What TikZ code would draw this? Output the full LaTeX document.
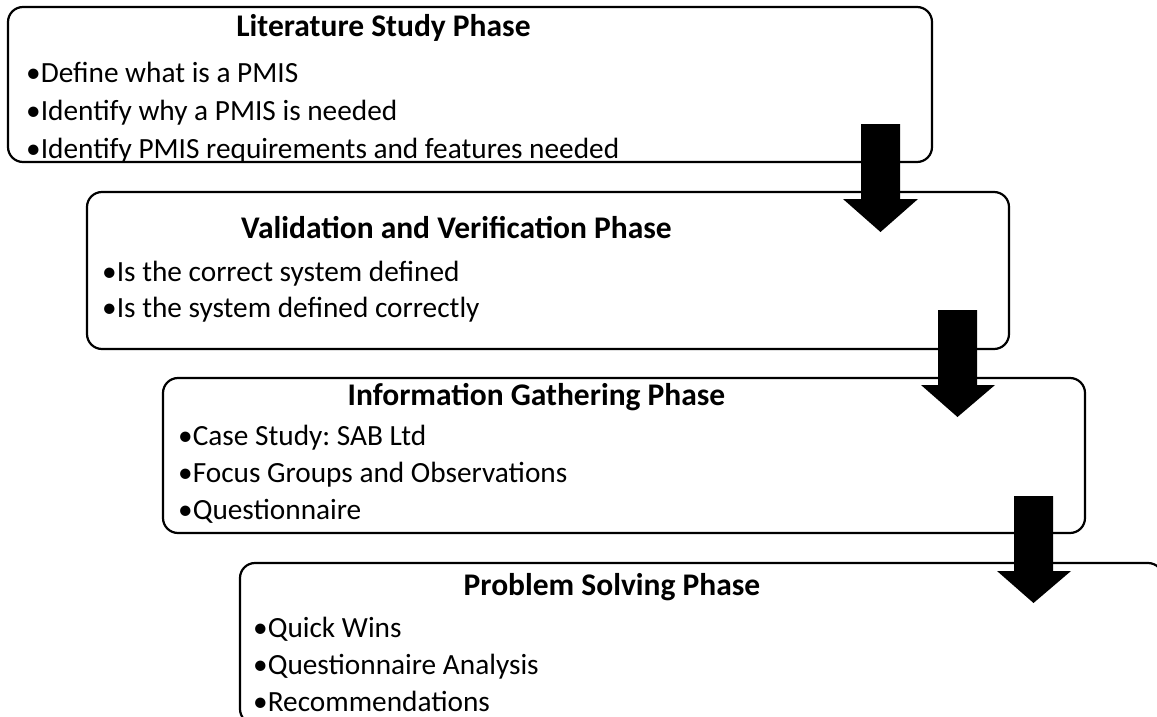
\documentclass[tikz,border=0pt]{standalone}
\usepackage{fontspec}
\setmainfont{Carlito}
\frenchspacing
\begin{document}
\begin{tikzpicture}[x=1pt,y=-1pt,
  box/.style={draw=black, fill=white, line width=2.2pt, rounded corners=15pt, inner sep=0pt, outer sep=0pt},
  txt/.style={anchor=base west, inner sep=0pt, font=\fontsize{29.3}{34}\selectfont},
  ttl/.style={anchor=base, inner sep=0pt, font=\bfseries\fontsize{31.5}{36}\selectfont},
  blockarrow/.style={fill=black}]
\useasboundingbox (0,0) rectangle (1157,717);
\clip (0,0) rectangle (1157,717);
% boxes
\node[box, minimum width=924pt, minimum height=155pt] (lit) at (470,84.5) {};
\node[box, minimum width=922pt, minimum height=157pt] (val) at (548,270.5) {};
\node[box, minimum width=922pt, minimum height=155pt] (inf) at (624,455.5) {};
\node[box, minimum width=923pt, minimum height=161pt] (prb) at (701.5,643.5) {};
% texts
\node[ttl] (litT) at (383.5,37) {Literature Study Phase};
\node[txt] (lit1) at (26,82) {•Define what is a PMIS};
\node[txt] (lit2) at (26,120) {•Identify why a PMIS is needed};
\node[txt] (lit3) at (26,158) {•Identify PMIS requirements and features needed};
\node[ttl] (valT) at (456.5,238) {Validation and Verification Phase};
\node[txt] (val1) at (102,281) {•Is the correct system defined};
\node[txt] (val2) at (102,317) {•Is the system defined correctly};
\node[ttl] (infT) at (536.5,405) {Information Gathering Phase};
\node[txt] (inf1) at (178,445) {•Case Study: SAB Ltd};
\node[txt] (inf2) at (178,482) {•Focus Groups and Observations};
\node[txt] (inf3) at (178,519) {•Questionnaire};
\node[ttl] (prbT) at (612,595) {Problem Solving Phase};
\node[txt] (prb1) at (253,637) {•Quick Wins};
\node[txt] (prb2) at (253,674) {•Questionnaire Analysis};
\node[txt] (prb3) at (253,711) {•Recommendations};
% block arrows
\fill[blockarrow] (861,124) -- (900,124) -- (900,199) -- (918,199) -- (880.5,232) -- (843,199) -- (861,199) -- cycle;
\fill[blockarrow] (938,310) -- (977,310) -- (977,385) -- (995,385) -- (957.5,417) -- (921,385) -- (938,385) -- cycle;
\fill[blockarrow] (1014,496) -- (1053,496) -- (1053,571) -- (1071,571) -- (1033.5,603) -- (997,571) -- (1014,571) -- cycle;
\end{tikzpicture}
\end{document}
